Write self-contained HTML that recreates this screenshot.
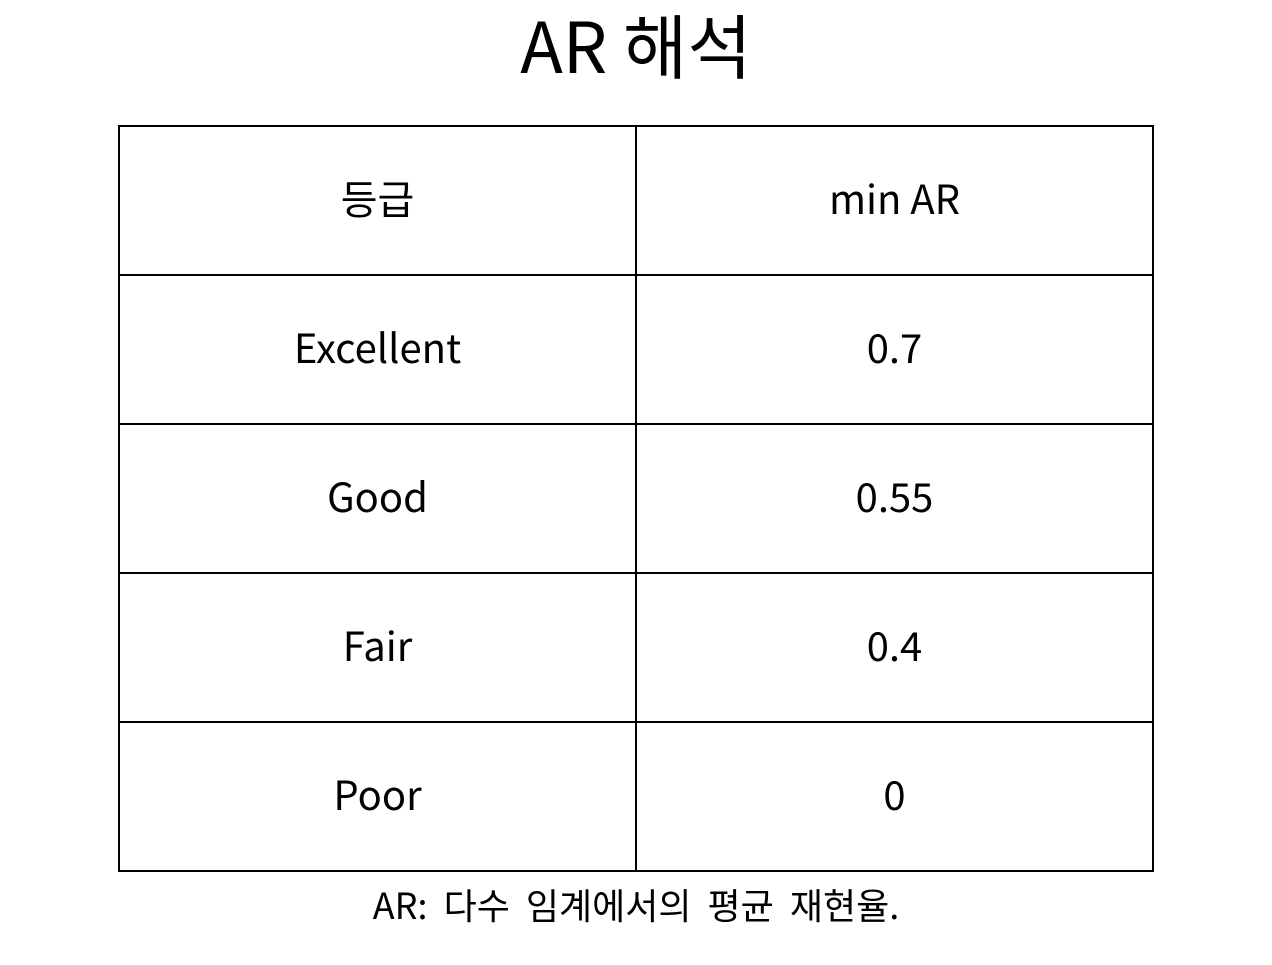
<!DOCTYPE html>
<html><head><meta charset="utf-8"><style>
body{margin:0;width:1272px;height:965px;background:#fff;position:relative;font-family:"Noto Sans CJK KR","Liberation Sans","NanumGothic",sans-serif;color:#000;overflow:hidden}
#title{position:absolute;left:0;width:1272px;top:-6px;text-align:center;font-size:70px;line-height:100px}
table{position:absolute;left:118px;top:125px;border-collapse:collapse;}
td{border:2px solid #000;width:515px;height:147px;text-align:center;vertical-align:middle;font-size:40px;line-height:50px;padding:0}
td span{position:relative;top:-4px}
#note{position:absolute;left:0;width:1272px;top:879px;text-align:center;font-size:36px;line-height:50px;word-spacing:8px}
</style></head><body>
<div id="title">AR 해석</div>
<table>
<tr><td><span>등급</span></td><td><span>min AR</span></td></tr>
<tr><td><span>Excellent</span></td><td><span>0.7</span></td></tr>
<tr><td><span>Good</span></td><td><span>0.55</span></td></tr>
<tr><td><span>Fair</span></td><td><span>0.4</span></td></tr>
<tr><td><span>Poor</span></td><td><span>0</span></td></tr>
</table>
<div id="note">AR: 다수 임계에서의 평균 재현율.</div>
</body></html>
